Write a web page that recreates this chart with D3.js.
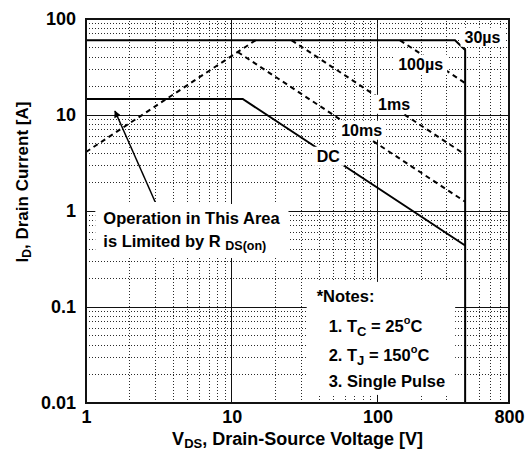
<!DOCTYPE html>
<html>
<head>
<meta charset="utf-8">
<script src="https://cdn.jsdelivr.net/npm/d3@7/dist/d3.min.js"></script>
<style>
body{margin:0;background:#fff;}
svg{display:block;font-family:"Liberation Sans",Arial,sans-serif;font-weight:bold;}
</style>
</head>
<body>
<div id="chart"></div>
<script>
var xTicks = [1, 10, 100, 800];
var yTicks = [0.01, 0.1, 1, 10, 100];

// SOA limit curves, points are [V_DS (V), I_D (A)]
var limit30us = [[1, 60], [341, 60], [400, 47.5], [400, 0.01]];
var dcLine = [[1, 14.7], [11.9, 14.7], [400, 0.437]];
var rdsOnLine = [[1, 4.12], [14.56, 60]];
var line10ms = [[11.0, 45.3], [400, 1.25]];
var line1ms = [[25.8, 60], [400, 3.87]];
var line100us = [[143, 60], [400, 21.5]];

// curve labels, anchored at [V, I] of the text centre
var curveNames = ["30\u00b5s", "100\u00b5s", "1ms", "10ms", "DC"];
var curveAnchors = [[526, 64.9], [198, 34], [130, 13.0], [78, 6.98], [46, 3.74]];

var areaNote = ["Operation in This Area", "is Limited by R "];
var notesText = ["*Notes:", "1. T", "2. T", "3. Single Pulse"];

var width = 531, height = 458;
var margin = {top: 19, right: 22, bottom: 55, left: 86};

var svg = d3.select("#chart").append("svg")
	.attr("width", width)
	.attr("height", height);

var x = d3.scaleLog().domain([1, 800]).range([margin.left, width - margin.right]);
var y = d3.scaleLog().domain([0.01, 100]).range([height - margin.bottom, margin.top]);

function isMajor(d){
	var l = Math.log10(d);
	return Math.abs(l - Math.round(l)) < 1e-6;
}

// grid: dotted minor lines, solid decade lines
var grid = svg.append("g").attr("shape-rendering", "crispEdges");

grid.selectAll(".gx")
	.data(x.ticks().filter(function (d) {return d > 1 && d < 800;}))
	.enter().append("line")
	.attr("x1", function (d) {return x(d);})
	.attr("x2", function (d) {return x(d);})
	.attr("y1", y(0.01))
	.attr("y2", y(100))
	.attr("stroke", function (d) {return isMajor(d) ? "#111" : "#2a2a2a";})
	.attr("stroke-dasharray", function (d) {return isMajor(d) ? null : "1,2";});

grid.selectAll(".gy")
	.data(y.ticks().filter(function (d) {return d > 0.011 && d < 99;}))
	.enter().append("line")
	.attr("x1", x(1))
	.attr("x2", x(800))
	.attr("y1", function (d) {return y(d);})
	.attr("y2", function (d) {return y(d);})
	.attr("stroke", function (d) {return isMajor(d) ? "#111" : "#2a2a2a";})
	.attr("stroke-dasharray", function (d) {return isMajor(d) ? null : "1,2";});

// curves
var line = d3.line()
	.x(function (d) {return x(d[0]);})
	.y(function (d) {return y(d[1]);});

var curves = svg.append("g")
	.attr("fill", "none")
	.attr("stroke", "#000")
	.attr("stroke-width", 2);

[limit30us, dcLine].forEach(function (pts) {
	curves.append("path").attr("d", line(pts));
});

[rdsOnLine, line10ms, line1ms, line100us].forEach(function (pts) {
	curves.append("path").attr("d", line(pts)).attr("stroke-dasharray", "5,4");
});

// white box behind a text group
function boxIt(g, padX, padY){
	var b = g.node().getBBox();
	g.insert("rect", ":first-child")
		.attr("x", b.x - padX)
		.attr("y", b.y - padY)
		.attr("width", b.width + padX * 2)
		.attr("height", b.height + padY * 2)
		.attr("fill", "#fff");
}

curveNames.forEach(function (name, k) {
	var g = svg.append("g");
	g.append("text")
		.attr("x", x(curveAnchors[k][0]))
		.attr("y", y(curveAnchors[k][1]))
		.attr("dy", "0.36em")
		.attr("text-anchor", "middle")
		.style("font-size", "16px")
		.text(name);
	boxIt(g, 4, 1);
});

// R_DS(on) annotation
var ax = x(1.315), ay = y(1);
var note = svg.append("g").style("font-size", "16.5px");
note.append("text").attr("x", ax).attr("y", ay + 13).text(areaNote[0]);
var t2 = note.append("text").attr("x", ax).attr("y", ay + 36).text(areaNote[1]);
t2.append("tspan").attr("dy", 3).style("font-size", "12.5px").text("DS(on)");
boxIt(note, 8, 5);

svg.append("defs").append("marker")
	.attr("id", "head")
	.attr("viewBox", "0 0 10 10")
	.attr("refX", 9).attr("refY", 5)
	.attr("markerWidth", 9).attr("markerHeight", 7)
	.attr("markerUnits", "userSpaceOnUse")
	.attr("orient", "auto")
	.append("path").attr("d", "M0,0L10,5L0,10Z").attr("fill", "#000");

svg.append("line")
	.attr("x1", x(2.98)).attr("y1", y(1.25))
	.attr("x2", x(1.58)).attr("y2", y(11.0))
	.attr("stroke", "#000")
	.attr("stroke-width", 1.5)
	.attr("marker-end", "url(#head)");

// notes box
var nx = x(38.3), ny = y(0.113);
var notes = svg.append("g").style("font-size", "16.5px");
notes.append("text").attr("x", nx).attr("y", ny).text(notesText[0]);
var n1 = notes.append("text").attr("x", nx + 12).attr("y", ny + 30).text(notesText[1]);
n1.append("tspan").attr("dy", 4).style("font-size", "13px").text("C");
n1.append("tspan").attr("dy", -4).text(" = 25");
n1.append("tspan").attr("dy", -8).style("font-size", "11px").text("o");
n1.append("tspan").attr("dy", 8).text("C");
var n2 = notes.append("text").attr("x", nx + 12).attr("y", ny + 59).text(notesText[2]);
n2.append("tspan").attr("dy", 4).style("font-size", "13px").text("J");
n2.append("tspan").attr("dy", -4).text(" = 150");
n2.append("tspan").attr("dy", -8).style("font-size", "11px").text("o");
n2.append("tspan").attr("dy", 8).text("C");
notes.append("text").attr("x", nx + 12).attr("y", ny + 85).text(notesText[3]);
boxIt(notes, 10, 5);

// frame
svg.append("rect")
	.attr("x", x(1)).attr("y", y(100))
	.attr("width", x(800) - x(1))
	.attr("height", y(0.01) - y(100))
	.attr("fill", "none")
	.attr("stroke", "#111")
	.attr("stroke-width", 2);

// axes
var xAxis = svg.append("g")
	.attr("transform", "translate(0," + y(0.01) + ")")
	.call(d3.axisBottom(x).tickValues(xTicks).tickSize(0).tickPadding(7).tickFormat(d3.format("d")));
var yAxis = svg.append("g")
	.attr("transform", "translate(" + x(1) + ",0)")
	.call(d3.axisLeft(y).tickValues(yTicks).tickSize(0).tickPadding(10).tickFormat(function (d) {return String(d);}));

[xAxis, yAxis].forEach(function (a) {
	a.select(".domain").remove();
	a.selectAll("text")
		.attr("fill", "#000")
		.style("font-family", "'Liberation Sans',Arial,sans-serif")
		.style("font-weight", "bold")
		.style("font-size", "18px");
});

var xTitle = svg.append("text")
	.attr("x", (x(1) + x(800)) / 2)
	.attr("y", 444.5)
	.attr("text-anchor", "middle")
	.style("font-size", "18px")
	.text("V");
xTitle.append("tspan").attr("dy", 3).style("font-size", "13px").text("DS");
xTitle.append("tspan").attr("dy", -3).text(", Drain-Source Voltage [V]");

var yTitle = svg.append("text")
	.attr("transform", "translate(28,182) rotate(-90)")
	.attr("text-anchor", "middle")
	.style("font-size", "17px")
	.text("I");
yTitle.append("tspan").attr("dy", 3).style("font-size", "12px").text("D");
yTitle.append("tspan").attr("dy", -3).text(", Drain Current [A]");
</script>
</body>
</html>
